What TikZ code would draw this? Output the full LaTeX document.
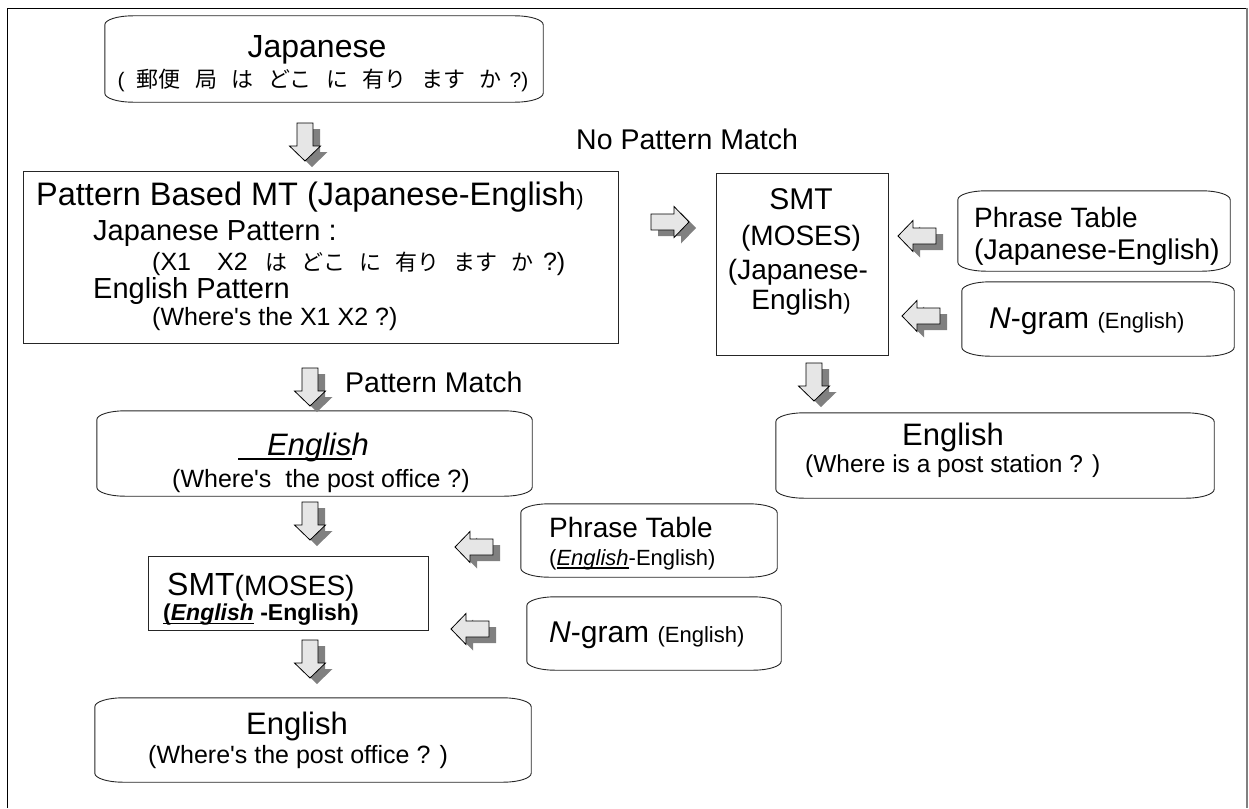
\documentclass[tikz,border=0pt]{standalone}
\usepackage{fontspec}
\setmainfont{Liberation Sans}
\newfontfamily\cjk{Noto Sans CJK JP}
\usetikzlibrary{calc}
\definecolor{arrowfill}{HTML}{E6E6E6}
\definecolor{shadowgray}{HTML}{808080}
\newcommand\fsz[1]{\fontsize{#1}{#1}\selectfont}
\newcommand\jgap{\hspace{14.5pt}}
\newcommand\kgap{\hspace{14pt}}
\newcommand\apos{\XeTeXglyph\XeTeXcharglyph"27\relax}
\newsavebox\ulbox
\newcommand\myul[2][0.06em]{\sbox\ulbox{#2}\rlap{\rule[-0.17em]{\wd\ulbox}{#1}}\usebox\ulbox}
\tikzset{
  rectbox/.style={draw=black!85, line width=0.9pt, inner sep=0},
  termshape/.style={inner sep=0},
  termline/.style={draw=black!85, line width=0.9pt},
  txt/.style={inner sep=0, anchor=base west},
  ctxt/.style={inner sep=0, anchor=base},
  arrowbody/.style={draw=black, fill=arrowfill, line width=0.8pt, line join=miter},
  arrowshadow/.style={fill=shadowgray},
  blockarrow/.pic={\path[pic actions] (0,-8) -- (23,-8) -- (23,-15.5) -- (38,0) -- (23,15.5) -- (23,8) -- (0,8) -- cycle;},
}
\newcommand\barrow[3]{%
  \pic[arrowshadow, rotate=#3] at ({#1+7},{#2+6}) {blockarrow};
  \pic[arrowbody, rotate=#3] at (#1,#2) {blockarrow};}
\newcommand\termbox[1]{%
  \draw[termline] ([xshift=28pt]#1.north west) -- ([xshift=-28pt]#1.north east)
    arc[start angle=90,end angle=0,x radius=28pt,y radius=9pt]
    -- ([yshift=9pt]#1.south east)
    arc[start angle=0,end angle=-90,x radius=28pt,y radius=9pt]
    -- ([xshift=28pt]#1.south west)
    arc[start angle=270,end angle=180,x radius=28pt,y radius=9pt]
    -- ([yshift=-9pt]#1.north west)
    arc[start angle=180,end angle=90,x radius=28pt,y radius=9pt] -- cycle;}
\begin{document}
\begin{tikzpicture}[x=1pt,y=-1pt]
\useasboundingbox (0,0) rectangle (1249,808);
% frame
\draw[black, line width=0.8pt] (7,808) -- (7,8) -- (1247,8);
\draw[black!50, line width=2pt] (1247,8) -- (1247,808);

% ---- boxes ----
\node[termshape, minimum width=438pt, minimum height=86pt] (jp) at (324,59) {};
\termbox{jp}
\node[rectbox, minimum width=595pt, minimum height=172pt] (pb) at (320.5,257) {};
\node[rectbox, minimum width=172pt, minimum height=182pt] (smta) at (802,264) {};
\node[termshape, minimum width=272pt, minimum height=80pt] (pta) at (1094,231) {};
\termbox{pta}
\node[termshape, minimum width=272pt, minimum height=74pt] (nga) at (1098,319) {};
\termbox{nga}
\node[termshape, minimum width=438pt, minimum height=85pt] (ena) at (995,455.5) {};
\termbox{ena}
\node[termshape, minimum width=435pt, minimum height=85pt] (enb) at (314.5,453.5) {};
\termbox{enb}
\node[rectbox, minimum width=280pt, minimum height=74pt] (smtb) at (288,593) {};
\node[termshape, minimum width=256pt, minimum height=73pt] (ptb) at (649,540.5) {};
\termbox{ptb}
\node[termshape, minimum width=254pt, minimum height=73pt] (ngb) at (654,633.5) {};
\termbox{ngb}
\node[termshape, minimum width=436pt, minimum height=84pt] (enc) at (313,740) {};
\termbox{enc}

% ---- texts ----
\node[ctxt] (jpt) at (317,57) {\fsz{32}Japanese};
\node[ctxt] (jpl) at (323,87) {\fsz{21}(\hspace{12pt}{\cjk\fsz{22}郵便}\jgap{\cjk\fsz{22}局}\jgap{\cjk\fsz{22}は}\jgap{\cjk\fsz{22}どこ}\jgap{\cjk\fsz{22}に}\jgap{\cjk\fsz{22}有り}\jgap{\cjk\fsz{22}ます}\jgap{\cjk\fsz{22}か}\hspace{8pt}?)};

\node[txt] (nopm) at (576,149) {\fsz{28.5}No Pattern Match};

\node[txt] (pbt) at (36,205) {\fsz{32.5}Pattern Based MT (Japanese-English{\fsz{22})}};
\node[txt] (pbj) at (93,240) {\fsz{29}Japanese Pattern :};
\node[txt] (pbx) at (152,270) {\fsz{25}(X1\hspace{26pt}X2\hspace{18pt}{\cjk\fsz{22}は\kgap どこ\kgap に\kgap 有り\kgap ます\kgap か}\hspace{10pt}?)};
\node[txt] (pbe) at (93,298) {\fsz{29}English Pattern};
\node[txt] (pbw) at (152,325) {\fsz{25}(Where\apos s the X1 X2 ?)};

\node[ctxt] (smta1) at (801,209) {\fsz{30}SMT};
\node[ctxt] (smta2) at (801,245) {\fsz{28}(MOSES)};
\node[ctxt] (smta3) at (798,279) {\fsz{28}(Japanese-};
\node[ctxt] (smta4) at (801,309) {\fsz{28}English{\fsz{22})}};

\node[txt] (pta1) at (974,227) {\fsz{28}Phrase Table};
\node[txt] (pta2) at (974,259) {\fsz{28.5}(Japanese-English)};

\node[txt] (nga1) at (989,328) {\fsz{30}\textit{N}-gram {\fsz{22}(English)}};

\node[ctxt] (ena1) at (953,445) {\fsz{31}English};
\node[txt] (ena2) at (805,472) {\fsz{24.5}(Where is a post station ? )};

\node[txt] (pm) at (345,392) {\fsz{28.5}Pattern Match};

\node[txt] (enb1) at (238,455) {\fsz{31}\myul[0.08em]{\hspace{29pt}\textit{Englis}}\textit{h}};
\node[txt] (enb2) at (172,487) {\fsz{25}(Where\apos s\ \ the post office ?)};

\node[txt] (smtb1) at (167,595) {\fsz{32}SMT{\fsz{28}(MOSES)}};
\node[txt] (smtb2) at (163,620) {\fsz{23}\bfseries\myul{(\textit{English}} -English)};

\node[txt] (ptb1) at (549,537) {\fsz{28}Phrase Table};
\node[txt] (ptb2) at (549,565) {\fsz{22}(\myul{\textit{English}}-English)};

\node[txt] (ngb1) at (549,642) {\fsz{30}\textit{N}-gram {\fsz{22}(English)}};

\node[ctxt] (enc1) at (297,734) {\fsz{31}English};
\node[txt] (enc2) at (148,763) {\fsz{25}(Where\apos s the post office ? )};

% ---- block arrows ----
\barrow{305}{123}{-90}
\barrow{651}{222}{0}
\barrow{936}{236}{180}
\barrow{940}{316}{180}
\barrow{814}{363}{-90}
\barrow{310}{368}{-90}
\barrow{310}{502}{-90}
\barrow{493}{547}{180}
\barrow{489}{629}{180}
\barrow{310}{640}{-90}
\end{tikzpicture}
\end{document}
